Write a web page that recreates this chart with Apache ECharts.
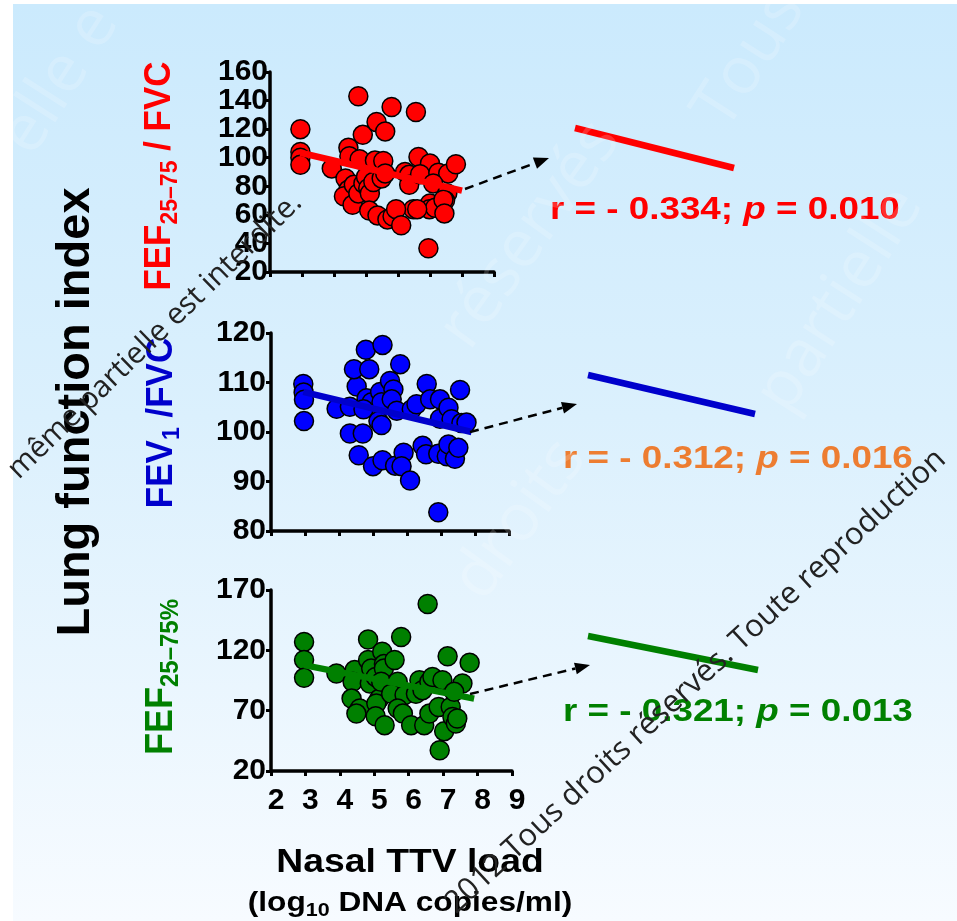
<!DOCTYPE html>
<html lang="fr">
<head>
<meta charset="UTF-8">
<title>Nasal TTV load vs lung function</title>
<script src="https://cdn.jsdelivr.net/npm/echarts@6/dist/echarts.min.js"></script>
<style>
    body { margin: 0; background: #fff; }
    #bg {
        position: absolute; left: 13px; top: 4px; width: 944px; height: 917px;
        background: linear-gradient(to bottom, #cbeafd 0%, #dbf0fd 45%, #f7fbff 100%);
    }
    #main { position: absolute; left: 0; top: 0; width: 957px; height: 921px; }
</style>
</head>
<body>
<div id="bg"></div>
<div id="main"></div>
<script>
// x = nasal TTV load (log10 copies/ml), y = lung function index
var fefFvc = [
    [2.95,120],[2.95,104],[2.95,100],[2.95,95],[3.93,92.5],
    [4.45,107],[4.48,101],[4.8,99],[4.36,85.5],[4.45,77.5],[4.31,73],[4.58,67],
    [4.62,81],[4.76,75],[4.92,82],[5.0,86.7],[5.07,78.7],[5.12,75],[5.23,83],
    [5.28,98],[5.54,97.7],[5.49,85.5],[5.6,89],
    [4.76,143],[4.9,116],[5.33,125],[5.6,118.4],[5.8,135.5],[6.56,132],
    [6.64,100.5],[7.0,96],[6.22,90],[6.35,88],[6.35,81],[6.69,88.5],[7.26,89.5],
    [7.57,89],[7.81,95.4],[7.1,82],[7.54,75],[7.47,70],[7.0,68],[6.98,64],
    [7.16,65],[7.42,70.6],[7.45,61],[6.48,64],[6.6,64],
    [5.1,63],[5.36,59.6],[5.67,56.8],[5.83,59],[5.94,64],[6.1,52.7],[6.95,36.6]
];
var fev1Fvc = [
    [2.95,109.7],[2.96,108],[2.97,106.5],[2.97,102.2],[3.93,104.7],[4.32,105.1],
    [4.52,109.2],[4.44,112.7],[4.79,116.6],[4.89,112.7],[5.28,117.6],[4.81,106.8],
    [4.96,106],[4.72,104.6],[5.21,108.1],[5.25,106],[5.5,110.3],[5.6,108.6],
    [5.55,106.6],[5.7,104.3],[5.8,113.7],[5.16,102.2],[5.25,101.4],[4.32,99.7],
    [4.7,99.7],[4.58,95.3],[5.0,93.1],[5.28,94.3],[5.65,93.2],[5.9,95.8],
    [5.84,93.1],[6.09,90.2],[6.14,104.6],[6.28,105.6],[6.58,109.7],[6.68,106.6],
    [6.97,106.6],[6.97,102.7],[7.22,104.9],[7.31,102.6],[7.6,101.8],[7.75,101.9],
    [7.56,108.5],[6.46,97.2],[6.56,95.5],[6.92,95.6],[7.17,95.1],[7.22,97.5],
    [7.41,94.6],[7.51,96.8],[6.92,83.8]
];
var fef2575 = [
    [2.96,127],[2.96,112],[2.96,97.2],[3.9,100.8],[4.43,103.6],[4.37,94],
    [4.34,80],[4.58,71.8],[4.48,67.6],[4.82,129],[4.82,112],[4.91,105],
    [4.87,92.5],[5.04,98],[5.15,80],[5.06,76],[5.04,65.4],[5.23,118.8],
    [5.28,108.6],[5.28,105],[5.2,94],[5.3,58],[5.59,112],[5.78,131],
    [5.68,94],[5.49,84],[5.88,83],[5.68,71.8],[5.83,67.6],[6.07,58],
    [6.21,84],[6.31,95.3],[6.4,87],[6.6,94],[6.69,98],[6.98,95.3],
    [6.55,158.4],[6.45,58],[6.6,67.6],[6.87,73],[7.03,53],[6.9,37.2],
    [7.13,115],[7.22,73],[7.27,64.8],[7.37,59.3],[7.41,63.5],[7.56,92.5],
    [7.77,109.7],[7.32,85.6]
];

// regression lines (end points)
var fitFefFvc = [[2.95,103.5],[8.0,77]];
var fitFev1Fvc = [[2.95,108.1],[7.9,100]];
var fitFef2575 = [[2.96,107.7],[7.9,80]];

var xRange = [2, 9];
var yRanges = [[20,160,20],[80,120,10],[20,170,50]];
var statR = ['0.334', '0.312', '0.321'];
var statP = ['0.010', '0.016', '0.013'];

var FONT = '"Liberation Sans", Arial, sans-serif';
var WM = '"Open Sans", "DejaVu Sans", sans-serif';

var chart = echarts.init(document.getElementById('main'));

var grids = [
    {left: 270, top: 72, width: 224, height: 200},
    {left: 271, top: 333, width: 238, height: 198},
    {left: 271, top: 590, width: 241, height: 181},
    // enlarged regression lines on the right
    {left: 575, top: 128, width: 159, height: 40},
    {left: 588, top: 375, width: 167, height: 39},
    {left: 588, top: 636, width: 170, height: 34}
];

var labelStyle = {color: '#000', fontSize: 30, fontWeight: 'bold', fontFamily: FONT,
                  showMinLabel: true, showMaxLabel: true, hideOverlap: false};

var xAxes = [], yAxes = [];
for (var i = 0; i < 3; i++) {
    xAxes.push({
        gridIndex: i, type: 'value', min: xRange[0], max: xRange[1], interval: 1,
        axisLine: {lineStyle: {color: '#000', width: 3.5}},
        axisTick: {show: true, length: 5, lineStyle: {color: '#000', width: 3}},
        axisLabel: Object.assign({}, labelStyle, {show: i === 2, margin: 15, padding: [0, 0, 0, 10]}),
        splitLine: {show: false}
    });
    yAxes.push({
        gridIndex: i, type: 'value', min: yRanges[i][0], max: yRanges[i][1], interval: yRanges[i][2],
        axisLine: {show: true, lineStyle: {color: '#000', width: 3.5}},
        axisTick: {show: true, length: 5, lineStyle: {color: '#000', width: 3}},
        axisLabel: Object.assign({}, labelStyle, {margin: i === 0 ? 2 : 5}),
        splitLine: {show: false}
    });
}
[fitFefFvc, fitFev1Fvc, fitFef2575].forEach(function (f, k) {
    xAxes.push({gridIndex: 3 + k, type: 'value', show: false, min: f[0][0], max: f[1][0]});
    yAxes.push({gridIndex: 3 + k, type: 'value', show: false, min: f[1][1], max: f[0][1]});
});

// top panel labels are packed tightly: split them over two stacked axes
var r0 = yRanges[0];
function everyOther(odd) {
    return function (v) { return (Math.round((v - r0[0]) / r0[2]) % 2 === odd) ? String(v) : ''; };
}
yAxes[0].axisLabel.formatter = everyOther(0);
yAxes.push({
    gridIndex: 0, type: 'value', position: 'left', offset: 0,
    min: r0[0], max: r0[1], interval: r0[2],
    axisLine: {show: false}, axisTick: {show: false}, splitLine: {show: false},
    axisLabel: Object.assign({}, labelStyle, {margin: 2, formatter: everyOther(1)})
});

function dots(data, idx, color) {
    return {
        type: 'scatter', xAxisIndex: idx, yAxisIndex: idx, data: data,
        symbolSize: 19, z: 2,
        itemStyle: {color: color, borderColor: '#000', borderWidth: 1.5, opacity: 1}
    };
}
function fit(data, idx, color) {
    return {
        type: 'line', xAxisIndex: idx, yAxisIndex: idx, data: data,
        symbol: 'none', clip: false, z: 3,
        lineStyle: {color: color, width: 6.5, cap: 'butt'}
    };
}

// dashed arrow from panel fit to enlarged line
function arrow(x1, y1, x2, y2) {
    var dx = x2 - x1, dy = y2 - y1, len = Math.sqrt(dx * dx + dy * dy);
    var ux = dx / len, uy = dy / len, h = 15, w = 6;
    var bx = x2 - ux * h, by = y2 - uy * h;
    return [
        {type: 'line', z: 10, shape: {x1: x1, y1: y1, x2: bx, y2: by},
         style: {stroke: '#000', lineWidth: 2.5, lineDash: [9, 6]}},
        {type: 'polygon', z: 10,
         shape: {points: [[x2, y2], [bx - uy * w, by + ux * w], [bx + uy * w, by - ux * w]]},
         style: {fill: '#000'}}
    ];
}

function sideTitle(x, y, main, sub, tail, color, size, subSize) {
    return {
        type: 'text', x: x, y: y, rotation: Math.PI / 2, scaleY: 1.08, z: 10,
        style: {
            text: '{a|' + main + '}{s|' + sub + '}' + (tail ? '{a|' + tail + '}' : ''),
            align: 'center', verticalAlign: 'middle',
            rich: {
                a: {fontSize: size, fontWeight: 'bold', fontFamily: FONT, fill: color, lineHeight: size + 6},
                s: {fontSize: subSize, fontWeight: 'bold', fontFamily: FONT, fill: color,
                    lineHeight: subSize, verticalAlign: 'bottom'}
            }
        }
    };
}

function stat(x, y, r, p, color) {
    return {
        type: 'text', x: x, y: y, scaleX: 1.15, z: 10,
        style: {
            text: '{n|r = - ' + r + '; }{i|p}{n| = ' + p + '}',
            align: 'left', verticalAlign: 'middle',
            rich: {
                n: {fontSize: 32, fontWeight: 'bold', fontFamily: FONT, fill: color},
                i: {fontSize: 32, fontWeight: 'bold', fontStyle: 'italic', fontFamily: FONT, fill: color}
            }
        }
    };
}

function faint(x, y, txt, rot) {
    return {
        type: 'text', x: x, y: y, rotation: rot, z: 20, silent: true,
        style: {text: txt, fill: 'rgba(255,255,255,0.18)', fontSize: 66, fontFamily: WM,
                align: 'center', verticalAlign: 'middle'}
    };
}

var graphics = [
    {
        type: 'text', x: 76, y: 412, rotation: Math.PI / 2, z: 10,
        style: {text: 'Lung function index', fill: '#000', fontSize: 47, fontWeight: 'bold',
                fontFamily: FONT, align: 'center', verticalAlign: 'middle'}
    },
    sideTitle(160, 176, 'FEF', '25\u201375', ' / FVC', '#ff0000', 35, 23),
    sideTitle(162, 423, 'FEV', '1', ' /FVC', '#0000cc', 35, 23),
    sideTitle(161, 677, 'FEF', '25\u201375%', '', '#008000', 36, 24),
    stat(550, 210, statR[0], statP[0], '#ff0000'),
    stat(563, 459, statR[1], statP[1], '#ed7d31'),
    stat(563, 712, statR[2], statP[2], '#008000'),
    {
        type: 'text', x: 410, y: 863, scaleX: 1.13, z: 10,
        style: {text: 'Nasal TTV load', fill: '#000', fontSize: 33, fontWeight: 'bold',
                fontFamily: FONT, align: 'center', verticalAlign: 'middle'}
    },
    {
        type: 'text', x: 410, y: 903, scaleX: 1.13, z: 10,
        style: {
            text: '{a|(log}{s|10}{a| DNA copies/ml)}', align: 'center', verticalAlign: 'middle',
            rich: {
                a: {fontSize: 28, fontWeight: 'bold', fontFamily: FONT, fill: '#000', lineHeight: 34},
                s: {fontSize: 19, fontWeight: 'bold', fontFamily: FONT, fill: '#000',
                    lineHeight: 19, verticalAlign: 'bottom'}
            }
        }
    },
    // watermark
    faint(60, 80, 'elle e', 1.0),
    faint(750, 60, 'Tous', 1.0),
    faint(530, 235, 'réservés', 0.95),
    faint(840, 300, 'partielle', 1.0),
    faint(520, 520, 'droits', 0.95),
    {
        type: 'text', x: 155, y: 336, rotation: 0.77, z: 20, silent: true,
        style: {text: 'même partielle est interdite.', fill: '#222', fontSize: 30,
                fontFamily: WM, align: 'center', verticalAlign: 'middle'}
    },
    {
        type: 'text', x: 450, y: 908, rotation: 0.745, z: 20, silent: true,
        style: {text: '2012 Tous droits réservés. Toute reproduction', fill: '#222',
                fontSize: 31, fontFamily: WM, align: 'left', verticalAlign: 'middle'}
    }
].concat(arrow(465, 189, 549, 158), arrow(470, 432, 577, 404), arrow(470, 694, 590, 665));

var option = {
    animation: false,
    backgroundColor: 'transparent',
    grid: grids,
    xAxis: xAxes,
    yAxis: yAxes,
    series: [
        dots(fefFvc, 0, '#ff0000'), fit(fitFefFvc, 0, '#ff0000'),
        dots(fev1Fvc, 1, '#0000ff'), fit(fitFev1Fvc, 1, '#0000cc'),
        dots(fef2575, 2, '#008000'), fit(fitFef2575, 2, '#008000'),
        fit(fitFefFvc, 3, '#ff0000'),
        fit(fitFev1Fvc, 4, '#0000cc'),
        fit(fitFef2575, 5, '#008000')
    ],
    graphic: graphics
};
chart.setOption(option);
</script>
</body>
</html>
